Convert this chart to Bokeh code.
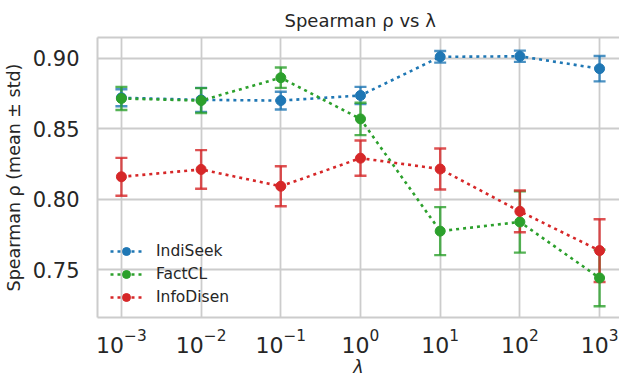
from bokeh.plotting import figure
from bokeh.models import (Range1d, FixedTicker, NumeralTickFormatter, Whisker, TeeHead,
                          ColumnDataSource, LinearAxis, Legend)
from bokeh.embed import file_html
from bokeh.resources import INLINE

lambdas = [1e-3, 1e-2, 1e-1, 1e0, 1e1, 1e2, 1e3]

indiseek_mean = [0.872, 0.8705, 0.870, 0.8736, 0.901, 0.9014, 0.8926]
indiseek_std = [0.006, 0.0085, 0.0063, 0.0061, 0.0041, 0.0040, 0.0090]

factcl_mean = [0.8715, 0.870, 0.8862, 0.857, 0.7775, 0.784, 0.7443]
factcl_std = [0.0082, 0.0088, 0.0072, 0.0115, 0.0170, 0.0217, 0.0200]

infodisen_mean = [0.816, 0.8212, 0.8093, 0.8292, 0.8215, 0.7915, 0.7637]
infodisen_std = [0.0134, 0.0137, 0.0142, 0.0125, 0.0145, 0.0148, 0.0222]

series_names = ["IndiSeek", "FactCL", "InfoDisen"]
series_colors = ["#1f77b4", "#2ca02c", "#d62728"]

y_ticks = [0.75, 0.80, 0.85, 0.90]

FONT = "DejaVu Sans"
TXT = "#262626"
GRID = "#cccccc"

p = figure(width=619, height=379, x_axis_type="log",
           x_range=Range1d(10 ** -3.3, 10 ** 3.25),
           y_range=Range1d(0.7163, 0.9147),
           output_backend="svg", toolbar_location=None,
           min_border_left=95, min_border_right=0, min_border_top=37, min_border_bottom=59)

p.title.text = "Spearman ρ vs λ"
p.title.text_font = FONT
p.title.text_font_size = "18px"
p.title.text_font_style = "normal"
p.title.text_color = TXT
p.title.align = "left"
p.title.offset = 187
p.title.standoff = 14

p.outline_line_color = None
p.background_fill_color = "white"
p.border_fill_color = "white"

for ax in (p.xaxis[0], p.yaxis[0]):
    ax.axis_line_color = GRID
    ax.axis_line_width = 2
    ax.major_tick_line_color = None
    ax.minor_tick_line_color = None
    ax.major_tick_out = 0
    ax.major_tick_in = 0
    ax.major_label_text_font = FONT
    ax.major_label_text_font_size = "21px"
    ax.major_label_text_color = TXT
    ax.axis_label_text_font = FONT
    ax.axis_label_text_font_size = "17.5px"
    ax.axis_label_text_font_style = "normal"
    ax.axis_label_text_color = TXT

p.xaxis[0].ticker = FixedTicker(ticks=lambdas, minor_ticks=[])
p.xaxis[0].major_label_text_font_size = "22px"
p.xaxis[0].major_label_standoff = 11
p.xaxis[0].axis_label = "λ"
p.xaxis[0].axis_label_text_font_style = "italic"
p.xaxis[0].axis_label_standoff = 1

p.yaxis[0].ticker = FixedTicker(ticks=y_ticks, minor_ticks=[])
p.yaxis[0].formatter = NumeralTickFormatter(format="0.00")
p.yaxis[0].major_label_standoff = 18
p.yaxis[0].axis_label = "Spearman ρ (mean ± std)"
p.yaxis[0].axis_label_standoff = 6

top_axis = LinearAxis(axis_line_color=GRID, axis_line_width=2,
                      major_tick_line_color=None, minor_tick_line_color=None,
                      major_tick_out=0, major_tick_in=0, major_label_text_font_size="0px",
                      major_label_standoff=0, ticker=FixedTicker(ticks=[]))
p.add_layout(top_axis, "above")

p.xgrid.ticker = FixedTicker(ticks=lambdas)
p.ygrid.ticker = FixedTicker(ticks=y_ticks)
p.xgrid.grid_line_color = GRID
p.ygrid.grid_line_color = GRID
p.xgrid.grid_line_width = 1.8
p.ygrid.grid_line_width = 1.8

means = [indiseek_mean, factcl_mean, infodisen_mean]
stds = [indiseek_std, factcl_std, infodisen_std]

legend_items = []
for name, color, m, s in zip(series_names, series_colors, means, stds):
    src = ColumnDataSource(dict(x=lambdas, y=m,
                                lo=[a - b for a, b in zip(m, s)],
                                hi=[a + b for a, b in zip(m, s)]))
    ln = p.line("x", "y", source=src, line_color=color, line_width=2.6,
                line_dash="3 4", line_cap="butt")
    w = Whisker(base="x", lower="lo", upper="hi", source=src, dimension="height",
                line_color=color, line_alpha=0.8, line_width=2.4,
                upper_head=TeeHead(size=12, line_color=color, line_alpha=0.8, line_width=2.4),
                lower_head=TeeHead(size=12, line_color=color, line_alpha=0.8, line_width=2.4))
    p.add_layout(w)
    sc = p.scatter("x", "y", source=src, size=10, fill_color=color, line_color=color)
    legend_items.append((name, [ln, sc]))

legend = Legend(items=legend_items, location=(13, 10), orientation="vertical",
                background_fill_alpha=0, border_line_color=None,
                label_text_font=FONT, label_text_font_size="15.5px", label_text_color=TXT,
                glyph_width=32, glyph_height=20, label_height=20, label_standoff=14,
                spacing=3, padding=0, margin=0)
p.add_layout(legend, "center")

open("out.html", "w").write(file_html(p, INLINE))
